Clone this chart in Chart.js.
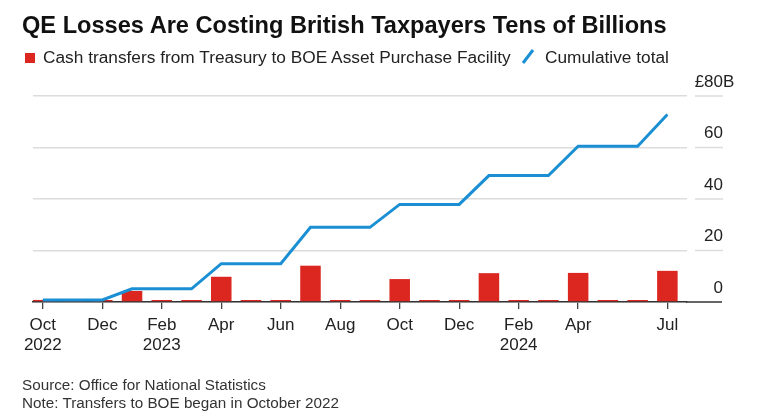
<!DOCTYPE html>
<html><head><meta charset="utf-8">
<script src="https://cdn.jsdelivr.net/npm/chart.js@4"></script>
<style>
html,body{margin:0;padding:0;background:#fff;}
#wrap{position:relative;width:758px;height:420px;overflow:hidden;font-family:"Liberation Sans",Arial,sans-serif;}
canvas{position:absolute;left:0;top:0;}
.t{position:absolute;white-space:nowrap;line-height:1;}
</style></head><body>
<div id="wrap">
<canvas id="c" width="758" height="420"></canvas>
<div class="t" id="title" style="left:22px;top:14px;font-size:23.6px;font-weight:bold;color:#111"></div>
<div style="position:absolute;left:25px;top:53px;width:10px;height:10px;background:#dc2620"></div>
<div class="t" id="leg1" style="left:43px;top:48.7px;font-size:17.3px;color:#222"></div>
<svg style="position:absolute;left:0;top:0" width="758" height="80"><line x1="523" y1="63" x2="533" y2="50" stroke="#1a8fd3" stroke-width="3"/></svg>
<div class="t" id="leg2" style="left:545px;top:48.7px;font-size:17.3px;color:#222"></div>
<div class="t" id="foot" style="left:22px;top:375.6px;font-size:15.25px;line-height:18.3px;color:#333"></div>
</div>
<script>
// Months indexed from Oct 2022 (0) to Jul 2024 (21)
const months = ["Oct 2022","Nov 2022","Dec 2022","Jan 2023","Feb 2023","Mar 2023","Apr 2023","May 2023","Jun 2023","Jul 2023","Aug 2023","Sep 2023","Oct 2023","Nov 2023","Dec 2023","Jan 2024","Feb 2024","Mar 2024","Apr 2024","May 2024","Jun 2024","Jul 2024"];
const transfers = [0.8,0,0,4.3,0,0,9.8,0,0,14.1,0,0,8.9,0,0,11.2,0,0,11.3,0,0,12.1];
const cumulative = [0.8,0.8,0.8,5.1,5.1,5.1,14.9,14.9,14.9,29.0,29.0,29.0,37.9,37.9,37.9,49.1,49.1,49.1,60.5,60.5,60.5,72.8];
const xTickIndex = [0,2,4,6,8,10,12,14,16,18,21];
const xTickLabels = [["Oct","2022"],["Dec"],["Feb","2023"],["Apr"],["Jun"],["Aug"],["Oct"],["Dec"],["Feb","2024"],["Apr"],["Jul"]];
const yTicks = [0,20,40,60,80];
const titleText = "QE Losses Are Costing British Taxpayers Tens of Billions";
const barLabel = "Cash transfers from Treasury to BOE Asset Purchase Facility";
const lineLabel = "Cumulative total";
const sourceText = "Source: Office for National Statistics";
const noteText = "Note: Transfers to BOE began in October 2022";

document.getElementById('title').textContent = titleText;
document.getElementById('leg1').textContent = barLabel;
document.getElementById('leg2').textContent = lineLabel;
document.getElementById('foot').innerHTML = sourceText + '<br>' + noteText;

const RED = '#dc2620', BLUE = '#1a8fd3', GRID = '#dcdcdc';
const FONT = '"Liberation Sans", Arial, sans-serif';

const yLabelPlugin = {
  id: 'yLabels',
  afterDraw(chart) {
    const ctx = chart.ctx, y = chart.scales.y, area = chart.chartArea;
    ctx.save();
    const y0 = y.getPixelForValue(0);
    ctx.strokeStyle = '#333'; ctx.lineWidth = 1.5;
    ctx.beginPath(); ctx.moveTo(area.right - 1, y0); ctx.lineTo(722, y0); ctx.stroke();
    ctx.font = '17px ' + FONT;
    ctx.fillStyle = '#222';
    ctx.textBaseline = 'alphabetic';
    yTicks.forEach(v => {
      const py = y.getPixelForValue(v);
      if (v !== 0) {
        ctx.strokeStyle = GRID; ctx.lineWidth = 1.5;
        ctx.beginPath(); ctx.moveTo(695, py); ctx.lineTo(723, py); ctx.stroke();
      }
      const num = String(v);
      ctx.textAlign = 'right';
      ctx.fillText(num, 723, py - 9.5);
      if (v === yTicks[yTicks.length - 1]) {
        const w = ctx.measureText(num).width;
        ctx.fillText('£', 723 - w, py - 9.5);
        ctx.textAlign = 'left';
        ctx.fillText('B', 723, py - 9.5);
      }
    });
    ctx.restore();
  }
};

new Chart(document.getElementById('c'), {
  type: 'bar',
  data: {
    datasets: [
      { type: 'line', label: lineLabel, data: cumulative.map((v, i) => ({x: i, y: v})),
        borderColor: BLUE, borderWidth: 3, pointRadius: 0, tension: 0, fill: false, order: 0 },
      { type: 'bar', label: barLabel, data: transfers.map((v, i) => ({x: i, y: v})),
        backgroundColor: RED, borderWidth: 0, barPercentage: 0.69, categoryPercentage: 1,
        minBarLength: 2, order: 1 }
    ]
  },
  options: {
    responsive: false, animation: false,
    layout: { padding: { left: 33, top: 96, right: 71, bottom: 58 } },
    plugins: { legend: { display: false }, tooltip: { enabled: false }, title: { display: false } },
    scales: {
      x: {
        type: 'linear', min: -0.33, max: 21.66, offset: false,
        afterBuildTicks: s => { s.ticks = xTickIndex.map(v => ({ value: v })); },
        afterFit: s => { s.height = 60; },
        ticks: { autoSkip: false, maxRotation: 0, padding: 6, color: '#222',
          font: { family: FONT, size: 17, lineHeight: 1.18 },
          callback: (v, i) => xTickLabels[i] },
        grid: { offset: false, drawOnChartArea: false, drawTicks: true, tickLength: 7, color: '#444', lineWidth: 1.3 },
        border: { display: true, color: '#333', width: 1.5 }
      },
      y: {
        position: 'right', min: 0, max: 80,
        afterBuildTicks: s => { s.ticks = yTicks.map(v => ({ value: v })); },
        afterFit: s => { s.width = 0; },
        ticks: { display: false },
        grid: { color: GRID, lineWidth: 1.5, drawTicks: false },
        border: { display: false }
      }
    }
  },
  plugins: [yLabelPlugin]
});
</script>
</body></html>
